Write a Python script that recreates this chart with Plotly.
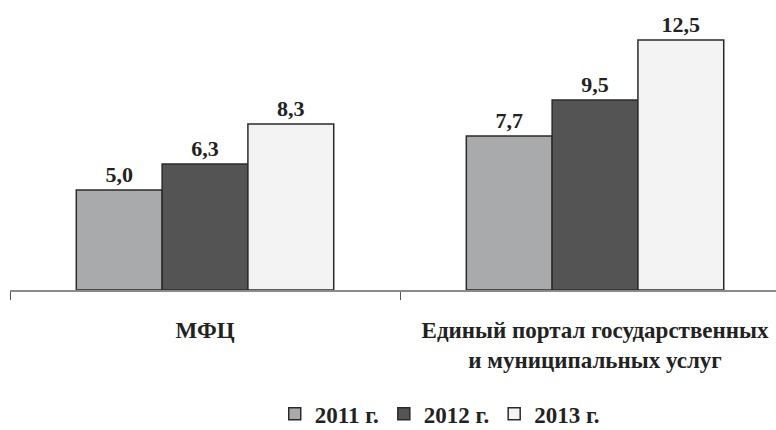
import plotly.graph_objects as go

categories = ["МФЦ", "Единый портал государственных<br>и муниципальных услуг"]
years = ["2011 г.", "2012 г.", "2013 г."]
values_2011 = [5.0, 7.7]
values_2012 = [6.3, 9.5]
values_2013 = [8.3, 12.5]
colors = ["#a9aaac", "#545454", "#f3f3f3"]

series = [values_2011, values_2012, values_2013]
ff = "Liberation Serif, Times New Roman, serif"
bold = dict(family=ff, size=22, color="#222222", weight="bold")
bold_lbl = dict(family=ff, size=23, color="#222222", weight="bold")

fig = go.Figure()
for name, vals, col in zip(years, series, colors):
    fig.add_trace(go.Bar(
        x=categories, y=vals, name=name,
        marker=dict(color=col, line=dict(color="#2a2a2a", width=1.5)),
        texttemplate="%{y:.1f}", textposition="outside",
        textfont=bold,
        cliponaxis=False,
    ))

fig.update_layout(
    width=776, height=430,
    margin=dict(l=10, r=0, t=0, b=140, autoexpand=False),
    paper_bgcolor="white", plot_bgcolor="white",
    barmode="group", bargap=0.34, bargroupgap=0,
    separators=", ",
    font=bold,
    showlegend=True,
    legend=dict(orientation="h", x=0.561, xanchor="center", y=-0.427, yanchor="middle",
                font=bold_lbl, itemwidth=30, traceorder="normal"),
    xaxis=dict(type="category", range=[-0.5, 1.464], showline=True, linecolor="#8a8a8a",
               linewidth=2, ticks="outside", tickson="boundaries", ticklen=8,
               tickcolor="#555555", tickwidth=1, ticklabelstandoff=18, automargin=False,
               tickfont=bold_lbl),
    yaxis=dict(range=[0, 14.5], visible=False, showgrid=False, zeroline=False, automargin=False),
)
fig.write_html("out.html", config={"displayModeBar": False},
               post_script="document.body.style.margin='0';document.body.style.padding='0';")
